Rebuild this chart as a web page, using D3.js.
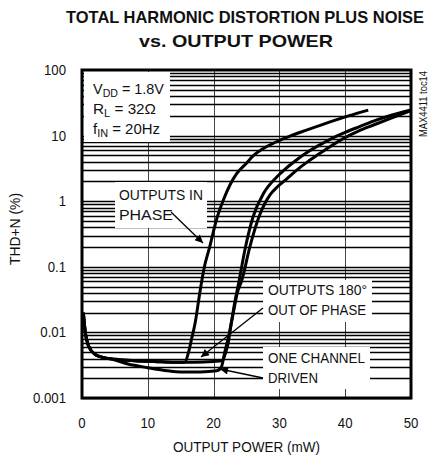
<!DOCTYPE html>
<html lang="en">
<head>
  <meta charset="UTF-8">
  <title>THD+N vs Output Power</title>
  <style>
    html, body {
      margin: 0;
      padding: 0;
      overflow: hidden;
      background: white;
    }
    #chart {
      display: block;
    }
    text {
      font-family: "Liberation Sans", Arial, sans-serif;
      fill: #111;
    }
    .curve {
      fill: none;
      stroke: #000;
      stroke-width: 3;
    }
  </style>
</head>
<body>
  <svg id="chart" width="431" height="460"></svg>

  <script src="https://d3js.org/d3.v7.min.js"></script>
  <script>
    // values
    var xTicks = [0, 10, 20, 30, 40, 50];
    var yTicks = [0.001, 0.01, 0.1, 1, 10, 100];
    var yTickLabels = ["0.001", "0.01", "0.1", "1", "10", "100"];
    var yMinor = [1, 2, 3, 4, 5, 6, 7, 8, 9];

    var inPhaseX = [0.2, 0.5, 1, 2, 3, 5, 8, 11, 14, 15.6, 16.2, 16.6, 17.2, 17.9, 18.6, 19.4, 20.5, 21.5, 22.5, 23.5, 25, 26, 27.5, 29.6, 31.6, 34, 37.7, 40.5, 43.5];
    var inPhaseY = [0.02, 0.01, 0.0062, 0.0046, 0.0042, 0.0039, 0.0037, 0.0036, 0.0035, 0.0035, 0.005, 0.0075, 0.014, 0.04, 0.1, 0.2, 0.55, 1.05, 1.78, 2.63, 3.8, 4.9, 6.3, 8.1, 9.8, 12, 16.2, 20, 24.5];

    var outPhaseX = [0.2, 0.5, 1, 2, 3, 5, 8, 11, 14, 17, 20, 21.3, 21.8, 22.2, 22.7, 23.2, 23.8, 24.8, 26, 27.6, 29.6, 31, 32.5, 34, 36, 38, 40, 42, 44.3, 47, 50];
    var outPhaseY = [0.02, 0.01, 0.0062, 0.0046, 0.0042, 0.0039, 0.0037, 0.0036, 0.0035, 0.0035, 0.0036, 0.0037, 0.0048, 0.0068, 0.014, 0.028, 0.056, 0.19, 0.58, 1.32, 2.34, 3.16, 4.17, 5.37, 7.1, 9.1, 11.2, 13.5, 16.6, 20.4, 24.5];

    var oneChX = [0.2, 0.5, 1, 2, 3, 5, 7, 10, 13, 15, 18, 20.5, 21.2, 21.7, 22.3, 23, 23.6, 24.3, 25.5, 26.9, 28.6, 29.7, 30.9, 32.5, 34, 35.7, 37.5, 39.7, 42, 44.3, 47, 50];
    var oneChY = [0.02, 0.01, 0.0062, 0.0046, 0.0042, 0.0038, 0.0033, 0.0029, 0.0026, 0.0025, 0.0025, 0.0026, 0.003, 0.005, 0.0089, 0.02, 0.04, 0.063, 0.2, 0.58, 1.26, 1.66, 2.09, 2.9, 3.8, 5.0, 6.6, 9.0, 11.7, 14.5, 18.5, 24];

    var svg = d3.select("#chart");

    var plotL = 82, plotR = 411, plotT = 70, plotB = 398;

    var x = d3.scaleLinear().domain([0, 50]).range([plotL, plotR]);
    var y = d3.scaleLog().domain([0.001, 100]).range([plotB, plotT]);

    // squeeze a text to look like the narrow face of the original
    function narrow(sel, ratio) {
      sel.each(function() {
        var len = this.getComputedTextLength();
        d3.select(this)
          .attr("textLength", len * ratio)
          .attr("lengthAdjust", "spacingAndGlyphs");
      });
    }

    // grid: 1..9 in every decade
    var gridVals = [];
    yTicks.slice(0, 5).forEach(function(dec) {
      yMinor.forEach(function(m) { gridVals.push(dec * m); });
    });

    var hPath = gridVals.map(function(v) {
      return "M" + plotL + "," + (Math.round(y(v)) + 0.5) + "H" + plotR;
    }).join("");
    var vPath = xTicks.slice(1, 5).map(function(v) {
      return "M" + (Math.round(x(v)) + 0.5) + "," + plotT + "V" + plotB;
    }).join("");

    svg.append("path")
      .attr("d", vPath)
      .attr("fill", "none")
      .attr("stroke", "#444")
      .attr("stroke-width", 1);

    svg.append("path")
      .attr("d", hPath)
      .attr("fill", "none")
      .attr("stroke", "#000")
      .attr("stroke-width", 1.5);

    // white label boxes over the grid
    var boxes = [
      [84, 72, 86, 70],
      [115, 182, 92, 46],
      [263, 280, 109, 42],
      [263, 347, 107, 42]
    ];
    svg.selectAll("rect.box")
      .data(boxes)
      .enter().append("rect")
      .attr("class", "box")
      .attr("x", function(d) { return d[0]; })
      .attr("y", function(d) { return d[1]; })
      .attr("width", function(d) { return d[2]; })
      .attr("height", function(d) { return d[3]; })
      .attr("fill", "white");

    // curves
    var lineGen = d3.line()
      .x(function(d) { return x(d[0]); })
      .y(function(d) { return y(d[1]); })
      .curve(d3.curveMonotoneX);

    function pairs(xs, ys) {
      return xs.map(function(v, i) { return [v, ys[i]]; });
    }

    [pairs(inPhaseX, inPhaseY), pairs(outPhaseX, outPhaseY), pairs(oneChX, oneChY)].forEach(function(s) {
      svg.append("path")
        .attr("class", "curve")
        .attr("d", lineGen(s));
    });

    // frame
    svg.append("rect")
      .attr("x", plotL)
      .attr("y", plotT)
      .attr("width", plotR - plotL)
      .attr("height", plotB - plotT)
      .attr("fill", "none")
      .attr("stroke", "#000")
      .attr("stroke-width", 3);

    // tick labels
    svg.selectAll("text.ytick")
      .data(yTicks)
      .enter().append("text")
      .attr("class", "ytick")
      .attr("x", 66)
      .attr("y", function(d) { return y(d) + 5; })
      .attr("text-anchor", "end")
      .style("font-size", "15px")
      .text(function(d, i) { return yTickLabels[i]; })
      .call(narrow, 0.88);

    svg.selectAll("text.xtick")
      .data(xTicks)
      .enter().append("text")
      .attr("class", "xtick")
      .attr("x", function(d) { return x(d); })
      .attr("y", 428)
      .attr("text-anchor", "middle")
      .style("font-size", "15px")
      .text(function(d) { return d; })
      .call(narrow, 0.88);

    svg.append("text")
      .attr("x", 246.5)
      .attr("y", 452)
      .attr("text-anchor", "middle")
      .attr("textLength", 147)
      .attr("lengthAdjust", "spacingAndGlyphs")
      .style("font-size", "15px")
      .text("OUTPUT POWER (mW)");

    svg.append("text")
      .attr("transform", "translate(20,229) rotate(-90)")
      .attr("text-anchor", "middle")
      .attr("textLength", 72)
      .attr("lengthAdjust", "spacingAndGlyphs")
      .style("font-size", "15px")
      .text("THD+N (%)");

    svg.append("text")
      .attr("transform", "translate(427,104) rotate(-90)")
      .attr("text-anchor", "middle")
      .attr("textLength", 66)
      .attr("lengthAdjust", "spacingAndGlyphs")
      .style("font-size", "10px")
      .text("MAX4411 toc14");

    // title
    svg.append("text")
      .attr("x", 245)
      .attr("y", 23)
      .attr("text-anchor", "middle")
      .attr("textLength", 358)
      .attr("lengthAdjust", "spacingAndGlyphs")
      .style("font-size", "17px")
      .style("font-weight", "bold")
      .text("TOTAL HARMONIC DISTORTION PLUS NOISE");

    svg.append("text")
      .attr("x", 236)
      .attr("y", 47)
      .attr("text-anchor", "middle")
      .attr("textLength", 194)
      .attr("lengthAdjust", "spacingAndGlyphs")
      .style("font-size", "17px")
      .style("font-weight", "bold")
      .text("vs. OUTPUT POWER");

    // conditions
    var cond = [
      ["V", "DD", " = 1.8V", 94, 71],
      ["R", "L", " = 32\u03A9", 114, 63],
      ["f", "IN", " = 20Hz", 134, 67]
    ];
    cond.forEach(function(c) {
      var t = svg.append("text")
        .attr("x", 93)
        .attr("y", c[3])
        .attr("textLength", c[4])
        .attr("lengthAdjust", "spacingAndGlyphs")
        .style("font-size", "15px");
      t.append("tspan").text(c[0]);
      t.append("tspan").attr("dy", 3).style("font-size", "11px").text(c[1]);
      t.append("tspan").attr("dy", -3).text(c[2]);
    });

    // annotations
    function label(lines, widths, x0, y0) {
      lines.forEach(function(s, i) {
        svg.append("text")
          .attr("x", x0)
          .attr("y", y0 + i * 20)
          .attr("textLength", widths[i])
          .attr("lengthAdjust", "spacingAndGlyphs")
          .style("font-size", "15px")
          .text(s);
      });
    }
    label(["OUTPUTS IN", "PHASE"], [84, 54], 119, 200);
    label(["OUTPUTS 180\u00B0", "OUT OF PHASE"], [99, 98], 268, 295);
    label(["ONE CHANNEL", "DRIVEN"], [97, 50], 268, 363);

    svg.append("defs").append("marker")
      .attr("id", "head")
      .attr("viewBox", "0 0 10 10")
      .attr("refX", 10)
      .attr("refY", 5)
      .attr("markerWidth", 11)
      .attr("markerHeight", 8)
      .attr("markerUnits", "userSpaceOnUse")
      .attr("orient", "auto")
      .append("path")
      .attr("d", "M0,0L10,5L0,10z")
      .attr("fill", "#000");

    var arrows = [
      [171, 212, 203, 243],
      [263, 308, 201, 357],
      [263, 378, 220, 369]
    ];
    svg.selectAll("line.arrow")
      .data(arrows)
      .enter().append("line")
      .attr("class", "arrow")
      .attr("x1", function(d) { return d[0]; })
      .attr("y1", function(d) { return d[1]; })
      .attr("x2", function(d) { return d[2]; })
      .attr("y2", function(d) { return d[3]; })
      .attr("stroke", "#000")
      .attr("stroke-width", 1.3)
      .attr("marker-end", "url(#head)");
  </script>
</body>
</html>
